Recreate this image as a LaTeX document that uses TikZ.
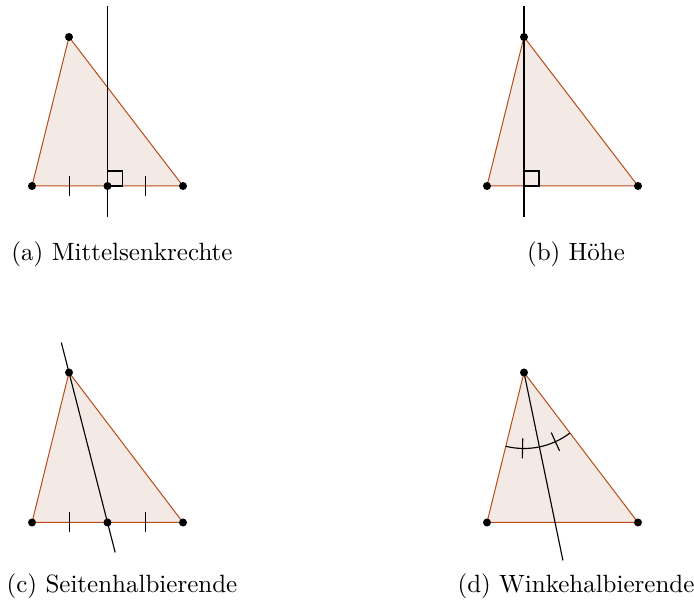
\documentclass[tikz,border=0pt]{standalone}
\usetikzlibrary{calc}
\definecolor{trifill}{RGB}{243,234,229}
\definecolor{tridraw}{RGB}{185,75,25}
\begin{document}
\begin{tikzpicture}[x=0.4pt,y=0.4pt,
  tri/.style={draw=tridraw,fill=trifill,line width=0.4pt,line join=round},
  cline/.style={draw=black,line width=0.45pt},
  pt/.style={fill=black},
  captext/.style={anchor=base,inner sep=0pt,font=\normalsize}]
\useasboundingbox (0,0) rectangle (694,606);
% ---------- (a) ----------
\coordinate (aA) at (32,420);
\coordinate (aB) at (183,420);
\coordinate (aC) at (69,569);
\coordinate (aM) at ($(aA)!0.5!(aB)$);
\coordinate (aTop) at ($(aM)+(0,180)$);
\coordinate (aBot) at ($(aM)+(0,-31)$);
\path[tri] (aA) -- (aB) -- (aC) -- cycle;
\draw[cline] (aTop) -- (aBot);
\draw[cline] (aM) rectangle ++(15,15);
\draw[cline] ($(aA)!0.5!(aM)+(0,10)$) -- ++(0,-20);
\draw[cline] ($(aM)!0.5!(aB)+(0,10)$) -- ++(0,-20);
\foreach \p in {aA,aB,aC,aM} \fill[pt] (\p) circle (1.6pt);
\node[captext] (capa) at (122,345) {(a) Mittelsenkrechte};
% ---------- (b) ----------
\coordinate (bA) at (487,420);
\coordinate (bB) at (638,420);
\coordinate (bC) at (524,569);
\coordinate (bF) at (524,420);
\coordinate (bTop) at ($(bF)+(0,180)$);
\coordinate (bBot) at ($(bF)+(0,-31)$);
\path[tri] (bA) -- (bB) -- (bC) -- cycle;
\draw[cline] (bTop) -- (bBot);
\draw[cline] (bF) rectangle ++(15,15);
\foreach \p in {bA,bB,bC} \fill[pt] (\p) circle (1.6pt);
\node[captext] (capb) at (576,345) {(b) H\"ohe};
% ---------- (c) ----------
\coordinate (cA) at (32,83.5);
\coordinate (cB) at (183,83.5);
\coordinate (cC) at (69,233.5);
\coordinate (cM) at ($(cA)!0.5!(cB)$);
\coordinate (cE1) at ($(cC)!-0.2!(cM)$);
\coordinate (cE2) at ($(cM)!-0.2!(cC)$);
\path[tri] (cA) -- (cB) -- (cC) -- cycle;
\draw[cline] (cE1) -- (cE2);
\draw[cline] ($(cA)!0.5!(cM)+(0,10)$) -- ++(0,-20);
\draw[cline] ($(cM)!0.5!(cB)+(0,10)$) -- ++(0,-20);
\foreach \p in {cA,cB,cC,cM} \fill[pt] (\p) circle (1.6pt);
\node[captext] (capc) at (122,13) {(c) Seitenhalbierende};
% ---------- (d) ----------
\coordinate (dA) at (487,83.5);
\coordinate (dB) at (638,83.5);
\coordinate (dC) at (524,233.5);
\coordinate (dE) at ($(dC)+(-78.3:192)$);
\path[tri] (dA) -- (dB) -- (dC) -- cycle;
\draw[cline] (dC) -- (dE);
\draw[cline] ($(dC)+(-103.9:76)$) arc[start angle=-103.9,end angle=-52.8,radius=76];
\draw[cline] ($(dC)+(-91.1:66)$) -- ($(dC)+(-91.1:86)$);
\draw[cline] ($(dC)+(-65.6:66)$) -- ($(dC)+(-65.6:86)$);
\foreach \p in {dA,dB,dC} \fill[pt] (\p) circle (1.6pt);
\node[captext] (capd) at (576,13) {(d) Winkehalbierende};
\end{tikzpicture}
\end{document}
